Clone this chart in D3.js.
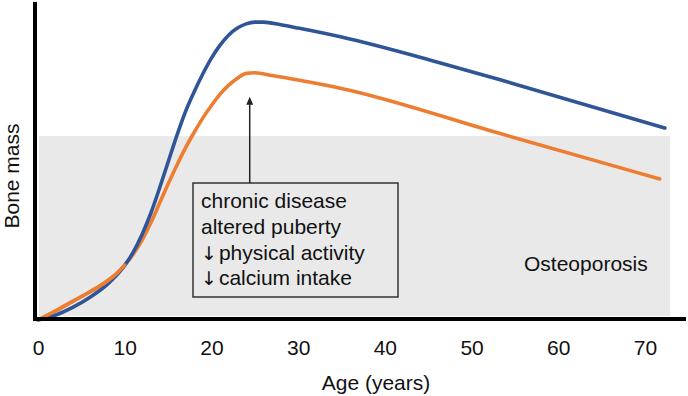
<!DOCTYPE html>
<html>
<head>
<meta charset="utf-8">
<script src="https://cdn.jsdelivr.net/npm/d3@7"></script>
<style>
  body { margin: 0; background: #fff; }
  text { font-family: "Liberation Sans", Arial, sans-serif; fill: #111; }
</style>
</head>
<body>
<div id="container"></div>
<script>
// ages (years) and bone mass readings, arbitrary units (0-100)
var blueAges = [0, 2, 4, 6, 8, 9, 10, 11, 12, 13, 14, 15, 16, 17, 18, 19, 20, 21, 22, 23, 24, 25, 26, 28, 30, 35, 46, 53, 72.3];
var blueMass = [0, 1.6, 4.2, 7.6, 11.9, 14.7, 18.2, 22.7, 28.5, 35.5, 43.8, 52.6, 61.4, 69.4, 76, 82, 87.3, 91.6, 95, 97.3, 98.7, 99.3, 99.3, 98.4, 97.3, 94.3, 86, 80.3, 64];

var orangeAges = [0, 2, 4, 6, 8, 9, 10, 11, 12, 13, 14, 15, 16, 17, 18, 19, 20, 21, 22, 23, 24, 25, 27, 30, 35, 53, 71.7];
var orangeMass = [0, 3, 6.2, 9.4, 13, 15.3, 18.3, 22, 26.6, 32.3, 38.8, 45.3, 51.5, 57.3, 62.5, 67.3, 71.5, 75.3, 78.3, 80.6, 82.2, 82.4, 81.5, 80, 77.2, 62.4, 47];

var xTicks = [0, 10, 20, 30, 40, 50, 60, 70];
var osteoThreshold = 61.3;   // bone mass below which osteoporosis zone starts
var osteoEnd = 72.9;         // age where the shaded zone stops
var peakAge = 24.3;          // where the arrow points
var factors = [
  {mark: "", label: "chronic disease"},
  {mark: "", label: "altered puberty"},
  {mark: "\u2193", label: "physical activity"},
  {mark: "\u2193", label: "calcium intake"}
];

var width = 688, height = 396;

var svg = d3.select("#container")
  .append("svg")
  .attr("width", width)
  .attr("height", height);

var x = d3.scaleLinear().domain([0, 70]).range([38, 645]);
var y = d3.scaleLinear().domain([0, 100]).range([320, 20]);

// osteoporosis zone
svg.append("rect")
  .attr("x", x(0) + 1)
  .attr("y", y(osteoThreshold))
  .attr("width", x(osteoEnd) - x(0) - 1)
  .attr("height", y(0) - 4 - y(osteoThreshold))
  .style("fill", "#e9e9e9");

svg.append("text")
  .attr("x", 524)
  .attr("y", 271)
  .style("font-size", "21px")
  .text("Osteoporosis");

// curves
var line = d3.line()
  .x(function(d) { return x(d[0]); })
  .y(function(d) { return y(d[1]); })
  .curve(d3.curveMonotoneX);

var blueData = blueAges.map(function(a, i) { return [a, blueMass[i]]; });
var orangeData = orangeAges.map(function(a, i) { return [a, orangeMass[i]]; });

function drawCurve(data, colour) {
  svg.append("path")
    .datum(data)
    .attr("d", line)
    .style("fill", "none")
    .style("stroke", colour)
    .style("stroke-width", 3.6)
    .style("stroke-linecap", "round");
}

drawCurve(orangeData, "#ed7d31");
drawCurve(blueData, "#2f5597");
// orange lies above blue before ~10 yrs, put that bit on top
drawCurve(orangeData.filter(function(d) { return d[0] <= 10; }), "#ed7d31");

// annotation box
var boxX = 193, boxY = 183, boxW = 205, boxH = 114;
svg.append("rect")
  .attr("x", boxX)
  .attr("y", boxY)
  .attr("width", boxW)
  .attr("height", boxH)
  .style("fill", "#e9e9e9")
  .style("stroke", "#333")
  .style("stroke-width", 1.5);

var rows = svg.append("g")
  .selectAll("text")
  .data(factors)
  .enter().append("text")
  .attr("x", boxX + 8)
  .attr("y", function(d, i) { return boxY + 25 + i * 25.8; })
  .style("font-size", "21px");
rows.append("tspan")
  .style("font-size", "19px")
  .style("font-family", "'DejaVu Sans', sans-serif")
  .style("fill", "#111")
  .text(function(d) { return d.mark; });
rows.append("tspan")
  .attr("dx", function(d) { return d.mark ? 2 : 0; })
  .text(function(d) { return d.label; });

// arrow to the peak
var ax = x(peakAge) + 1;
var tip = y(d3.max(orangeMass)) + 24;
svg.append("line")
  .attr("x1", ax).attr("x2", ax)
  .attr("y1", boxY).attr("y2", tip + 6)
  .style("stroke", "#222")
  .style("stroke-width", 1.5);
svg.append("path")
  .attr("d", "M" + ax + "," + tip + "L" + (ax - 3.5) + "," + (tip + 8) + "L" + (ax + 3.5) + "," + (tip + 8) + "Z")
  .style("fill", "#222");

// x axis ticks
svg.append("g")
  .attr("transform", "translate(0,319)")
  .call(d3.axisBottom(x).tickValues(xTicks).tickSize(0).tickPadding(21))
  .call(function(g) { g.select(".domain").remove(); })
  .selectAll("text")
  .style("font-size", "21px")
  .style("font-family", "'Liberation Sans', Arial, sans-serif")
  .style("fill", "#111");

// axis lines
svg.append("line")
  .attr("x1", 35).attr("x2", 35)
  .attr("y1", 2).attr("y2", 321)
  .style("stroke", "#000")
  .style("stroke-width", 4);
svg.append("line")
  .attr("x1", 33).attr("x2", 686)
  .attr("y1", 319).attr("y2", 319)
  .style("stroke", "#000")
  .style("stroke-width", 4);

// axis titles
svg.append("text")
  .attr("x", 376)
  .attr("y", 390)
  .attr("text-anchor", "middle")
  .style("font-size", "21px")
  .text("Age (years)");

svg.append("text")
  .attr("transform", "translate(18.5,176) rotate(-90)")
  .attr("text-anchor", "middle")
  .style("font-size", "21px")
  .text("Bone mass");
</script>
</body>
</html>
